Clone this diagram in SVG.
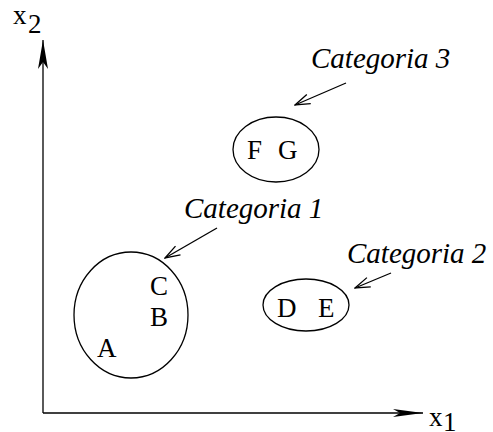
<svg xmlns="http://www.w3.org/2000/svg" width="493" height="432" viewBox="0 0 493 432" font-family="'Liberation Serif', 'Times New Roman', Times, serif">
<defs>
<style>
text{font-family:'Liberation Serif','Times New Roman',Times,serif;font-size:27px;fill:#000}
.cat{font-style:italic;font-size:29px}
.ln{stroke:#000;stroke-width:1.3;fill:none}
.el{stroke:#000;stroke-width:1.3;fill:#fff}
</style>
<marker id="axy" markerUnits="userSpaceOnUse" viewBox="0 0 29 10" refX="29" refY="5" markerWidth="29" markerHeight="10" orient="auto">
<path d="M0,0 L29,5 L0,10 L7,5 Z" fill="#000"/>
</marker>
<marker id="axx" markerUnits="userSpaceOnUse" viewBox="0 0 30 8" refX="30" refY="4" markerWidth="30" markerHeight="8" orient="auto">
<path d="M0,0 L30,4 L0,8 L7,4 Z" fill="#000"/>
</marker>
<marker id="op" markerUnits="userSpaceOnUse" viewBox="-1 -1 17 12" refX="15" refY="5" markerWidth="17" markerHeight="12" orient="auto">
<path d="M0,0 L15,5 L0,10" fill="none" stroke="#000" stroke-width="1.3"/>
</marker>
</defs>
<rect width="493" height="432" fill="#fff"/>
<g id="connectors">
<line class="ln" x1="43" y1="413" x2="43" y2="40" marker-end="url(#axy)"/>
<line class="ln" x1="43" y1="413" x2="423" y2="413" marker-end="url(#axx)"/>
<line class="ln" x1="346" y1="83" x2="295" y2="105" marker-end="url(#op)"/>
<line class="ln" x1="217" y1="228" x2="165" y2="258" marker-end="url(#op)"/>
<line class="ln" x1="391" y1="273" x2="355" y2="288" marker-end="url(#op)"/>
</g>
<g id="axis-x2"><text x="13" y="24">x</text><text x="28" y="33">2</text></g>
<g id="axis-x1"><text x="429" y="426">x</text><text x="443" y="431">1</text></g>
<g id="cat3-label"><text class="cat" x="311" y="68">Categoria 3</text></g>
<g id="cat1-label"><text class="cat" x="184" y="218">Categoria 1</text></g>
<g id="cat2-label"><text class="cat" x="347" y="263">Categoria 2</text></g>
<g id="cat3"><ellipse class="el" cx="276" cy="149.5" rx="43" ry="32.5"/><text x="247" y="159">F</text><text x="278" y="159">G</text></g>
<g id="cat2"><ellipse class="el" cx="306" cy="305" rx="43" ry="26"/><text x="277" y="317">D</text><text x="318" y="317">E</text></g>
<g id="cat1"><ellipse class="el" cx="131" cy="315" rx="57" ry="63"/><text x="150" y="295">C</text><text x="150" y="326">B</text><text x="97" y="357">A</text></g>
</svg>
